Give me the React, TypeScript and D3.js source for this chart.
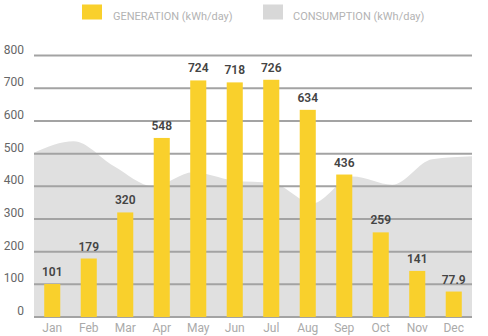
import React from "react";
import * as d3 from "d3";

const months = ["Jan", "Feb", "Mar", "Apr", "May", "Jun", "Jul", "Aug", "Sep", "Oct", "Nov", "Dec"];
const generation = [101, 179, 320, 548, 724, 718, 726, 634, 436, 259, 141, 77.9];
const generationLabels = ["101", "179", "320", "548", "724", "718", "726", "634", "436", "259", "141", "77.9"];
const consumption = [503, 538, 462, 400, 443, 418, 410, 348, 430, 405, 483, 492];
const yTicks = [0, 100, 200, 300, 400, 500, 600, 700, 800];
const legendItems = ["GENERATION (kWh/day)", "CONSUMPTION (kWh/day)"];

const W = 488;
const H = 336;
const left = 34;
const right = 472;
const top = 55.6;
const bottom = 317;

export default function App() {
  const x = d3.scaleBand<string>().domain(months).range([left, right]).paddingInner(0.56).paddingOuter(0.28);
  const xp = d3.scalePoint<string>().domain(months).range([left, right]);
  const y = d3.scaleLinear().domain([0, 800]).range([bottom, top]);

  const area = d3
    .area<number>()
    .x((_, i) => xp(months[i]) as number)
    .y0(y(0))
    .y1((d) => y(d))
    .curve(d3.curveMonotoneX);

  const font = "Roboto, 'Noto Sans', sans-serif";

  return (
    <svg width={W} height={H} style={{ position: "absolute", left: 0, top: 0 }} fontFamily={font}>
      <rect x={0} y={0} width={W} height={H} fill="#fff" />
      {/* legend */}
      <rect x={82} y={4.5} width={20} height={15} fill="#F9D02C" />
      <text x={113} y={19.5} fontSize={11} fill="#b3b3b3">{legendItems[0]}</text>
      <rect x={263} y={4.5} width={20} height={15} fill="#d8d8d8" />
      <text x={293} y={19.5} fontSize={11} fill="#b3b3b3">{legendItems[1]}</text>

      <path d={area(consumption) || ""} fill="#e0e0e0" />

      {yTicks.map((t) => (
        <g key={t}>
          <line x1={left} x2={right} y1={y(t)} y2={y(t)} stroke="#a3a3a3" strokeWidth={2} />
          <text x={24} y={y(t) - 2} textAnchor="end" fontSize={12} fill="#666">{t}</text>
        </g>
      ))}

      {generation.map((v, i) => (
        <g key={months[i]}>
          <rect x={x(months[i])} y={y(v)} width={x.bandwidth()} height={y(0) - y(v)} fill="#F9D02C" />
          <text
            x={(x(months[i]) as number) + x.bandwidth() / 2}
            y={y(v) - 8}
            textAnchor="middle"
            fontSize={12}
            fontWeight={600}
            fill="#444"
          >
            {generationLabels[i]}
          </text>
          <text
            x={(x(months[i]) as number) + x.bandwidth() / 2}
            y={332}
            textAnchor="middle"
            fontSize={12}
            fill="#aaa"
          >
            {months[i]}
          </text>
        </g>
      ))}
    </svg>
  );
}
